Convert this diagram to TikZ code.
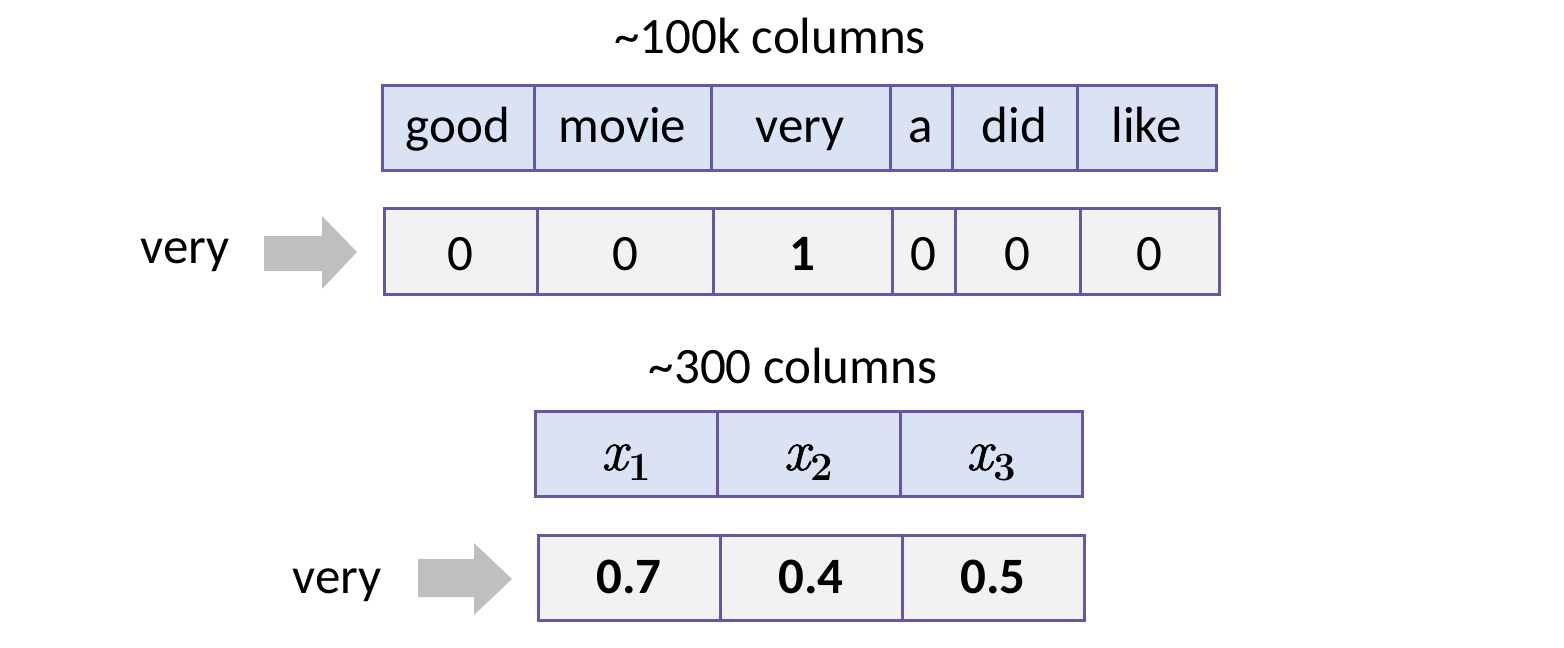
\documentclass[tikz,border=0pt]{standalone}
\usepackage{fontspec}
\setmainfont{Carlito}
\newfontfamily\lmr{Latin Modern Roman}
\newfontfamily\lmrx[FakeBold=1.2]{Latin Modern Roman}
\definecolor{cellborder}{RGB}{106,84,165}
\definecolor{headfill}{RGB}{218,227,243}
\definecolor{datafill}{RGB}{242,242,242}
\definecolor{arrowgray}{RGB}{191,191,191}
\newcommand\myxsub[1]{{\lmrx\fontsize{58}{60}\selectfont\itshape x}\kern1pt\raisebox{-10pt}{\lmr\fontsize{40}{44}\selectfont\bfseries #1}}
\begin{document}
\begin{tikzpicture}[x=1pt,y=-1pt,
  cell/.style={draw=cellborder, line width=3pt, inner sep=0pt, text depth=0pt, font=\fontsize{51}{60}\selectfont},
  head/.style={cell, fill=headfill},
  data/.style={cell, fill=datafill},
  rowa/.style={minimum height=85pt, text height=29pt},
  rowb/.style={minimum height=86pt, text height=38pt},
  rowc/.style={minimum height=85pt, text height=33pt},
  rowd/.style={minimum height=85pt, text height=31pt},
  lbl/.style={inner sep=0pt, anchor=base, font=\fontsize{51}{60}\selectfont}]
\useasboundingbox (0,0) rectangle (1564,648);
% titles
\node[lbl] (t1) at (770,53) {\textasciitilde 100k columns};
\node[lbl] (t2) at (793,383) {\textasciitilde 300 columns};
% row 1
\node[head, rowa, minimum width=152pt] (h1) at (458,127.5) {good};
\node[head, rowa, minimum width=177pt] (h2) at (622.5,127.5) {movie};
\node[head, rowa, minimum width=179pt] (h3) at (800.5,127.5) {very};
\node[head, rowa, minimum width=62pt] (h4) at (921,127.5) {a};
\node[head, rowa, minimum width=125pt] (h5) at (1014.5,127.5) {did};
\node[head, rowa, minimum width=139pt] (h6) at (1146.5,127.5) {like};
% row 2
\node[data, rowb, minimum width=153pt] (d1) at (460.5,251) {0};
\node[data, rowb, minimum width=176pt] (d2) at (625,251) {0};
\node[data, rowb, minimum width=179pt] (d3) at (802.5,251) {\textbf{1}};
\node[data, rowb, minimum width=63pt] (d4) at (923.5,251) {0};
\node[data, rowb, minimum width=125pt] (d5) at (1017.5,251) {0};
\node[data, rowb, minimum width=139pt] (d6) at (1149.5,251) {0};
% row 3
\node[head, rowc, minimum width=182pt] (x1) at (626,453.5) {\myxsub{1}};
\node[head, rowc, minimum width=183pt] (x2) at (808.5,453.5) {\myxsub{2}};
\node[head, rowc, minimum width=182pt] (x3) at (991,453.5) {\myxsub{3}};
% row 4
\node[data, rowd, minimum width=182pt] (e1) at (629,577.5) {\textbf{0.7}};
\node[data, rowd, minimum width=182pt] (e2) at (811,577.5) {\textbf{0.4}};
\node[data, rowd, minimum width=182pt] (e3) at (993,577.5) {\textbf{0.5}};
% labels
\node[lbl] (v1) at (185,263) {very};
\node[lbl] (v2) at (337,593) {very};
% block arrows
\fill[arrowgray] (264,236) -- (322,236) -- (322,216) -- (357,252) -- (322,289) -- (322,271) -- (264,271) -- cycle;
\fill[arrowgray] (418,559) -- (474,559) -- (474,543) -- (512,579) -- (474,615) -- (474,597) -- (418,597) -- cycle;
\end{tikzpicture}
\end{document}
